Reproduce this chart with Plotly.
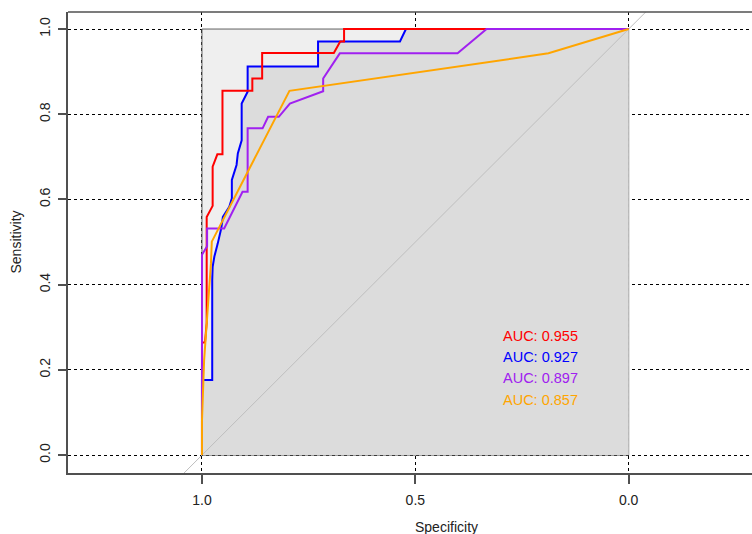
import plotly.graph_objects as go

# ---- data (specificity, sensitivity) ----
blue_spec = [0.0, 0.522, 0.536, 0.728, 0.728, 0.893, 0.893, 0.907, 0.907, 0.916, 0.919, 0.930,
             0.930, 0.936, 0.951, 0.955, 0.963, 0.971, 0.975, 0.976, 0.976, 1.0, 1.0]
blue_sens = [1.0, 1.0, 0.971, 0.971, 0.912, 0.912, 0.853, 0.825, 0.739, 0.708, 0.681, 0.646,
             0.603, 0.583, 0.559, 0.532, 0.497, 0.466, 0.442, 0.41, 0.176, 0.176, 0.0]

red_spec = [0.0, 0.667, 0.667, 0.676, 0.691, 0.859, 0.859, 0.882, 0.882, 0.952, 0.952, 0.964,
            0.975, 0.975, 0.989, 0.989, 0.993, 1.0, 1.0]
red_sens = [1.0, 1.0, 0.971, 0.971, 0.944, 0.944, 0.884, 0.884, 0.855, 0.855, 0.706, 0.706,
            0.677, 0.585, 0.559, 0.31, 0.264, 0.264, 0.0]

purple_spec = [0.0, 0.333, 0.401, 0.677, 0.716, 0.716, 0.794, 0.820, 0.845, 0.858, 0.893, 0.893,
               0.905, 0.948, 0.988, 0.988, 1.0, 1.0]
purple_sens = [1.0, 1.0, 0.943, 0.943, 0.884, 0.854, 0.825, 0.794, 0.794, 0.767, 0.767, 0.618,
               0.618, 0.532, 0.532, 0.49, 0.47, 0.0]

orange_spec = [0.0, 0.188, 0.795, 0.977, 0.979, 0.989, 0.995, 1.0, 1.0]
orange_sens = [1.0, 0.943, 0.855, 0.501, 0.45, 0.317, 0.223, 0.082, 0.0]

auc_labels = ["AUC: 0.955", "AUC: 0.927", "AUC: 0.897", "AUC: 0.857"]
auc_colors = ["#FF0000", "#0000FF", "#A020F0", "#FFA500"]

x_ticks = [1.0, 0.5, 0.0]
x_ticktext = ["1.0", "0.5", "0.0"]
y_ticks = [0.0, 0.2, 0.4, 0.6, 0.8, 1.0]
y_ticktext = ["0.0", "0.2", "0.4", "0.6", "0.8", "1.0"]

FONT = "Liberation Sans, Arial, sans-serif"

fig = go.Figure()

# max AUC polygon (full square)
fig.add_trace(go.Scatter(x=[1, 1, 0, 0, 1], y=[0, 1, 1, 0, 0], mode="lines",
                         fill="toself", fillcolor="#EFEFEF",
                         line=dict(color="#606060", width=1), hoverinfo="skip"))
# AUC polygon under the blue curve
fig.add_trace(go.Scatter(x=blue_spec + [0.0], y=blue_sens + [0.0], mode="lines",
                         fill="toself", fillcolor="#DCDCDC",
                         line=dict(width=0, color="rgba(0,0,0,0)"), hoverinfo="skip"))
# diagonal reference
fig.add_trace(go.Scatter(x=[1.5, -0.5], y=[-0.5, 1.5], mode="lines",
                         line=dict(color="#BEBEBE", width=1), hoverinfo="skip"))

for xs, ys, c in [(blue_spec, blue_sens, "#0000FF"), (red_spec, red_sens, "#FF0000"),
                  (purple_spec, purple_sens, "#A020F0"), (orange_spec, orange_sens, "#FFA500")]:
    fig.add_trace(go.Scatter(x=xs, y=ys, mode="lines", line=dict(color=c, width=2)))

annotations = []
for i, (t, c) in enumerate(zip(auc_labels, auc_colors)):
    annotations.append(dict(x=0.3, y=0.28 - 0.05 * i, xref="x", yref="y", text=t,
                            showarrow=False, xanchor="left", yanchor="middle",
                            font=dict(family=FONT, size=14.5, color=c)))
annotations.append(dict(x=416 / 752, y=-(527 - 473) / 461, xref="paper", yref="paper",
                        text="Specificity", showarrow=False, xanchor="center", yanchor="middle",
                        font=dict(family=FONT, size=14, color="#222")))
annotations.append(dict(x=-(68 - 15) / 684, y=0.5, xref="paper", yref="paper",
                        text="Sensitivity", showarrow=False, textangle=-90,
                        xanchor="center", yanchor="middle",
                        font=dict(family=FONT, size=14, color="#222")))

fig.update_layout(
    width=752, height=534,
    margin=dict(l=68, r=0, t=12, b=61, autoexpand=False),
    plot_bgcolor="white", paper_bgcolor="white",
    showlegend=False,
    font=dict(family=FONT, size=14, color="#222"),
    annotations=annotations,
    shapes=[dict(type="line", xref="paper", yref="paper", x0=0, x1=1, y0=1, y1=1,
                 line=dict(color="#505050", width=1.5))],
    xaxis=dict(range=[1.314, -0.289], tickvals=x_ticks, ticktext=x_ticktext,
               showgrid=True, gridcolor="black", griddash="dot", gridwidth=1,
               zeroline=False, showline=True, linecolor="#505050", linewidth=1.5,
               ticks="outside", ticklen=9, tickcolor="#505050", tickwidth=1.5,
               ticklabelstandoff=4, automargin=False,
               tickfont=dict(family=FONT, size=14, color="#222")),
    yaxis=dict(range=[-0.042, 1.040], tickvals=y_ticks, ticktext=y_ticktext,
               showgrid=True, gridcolor="black", griddash="dot", gridwidth=1,
               zeroline=False, showline=True, linecolor="#505050", linewidth=1.5,
               ticks="outside", ticklen=8, tickcolor="#505050", tickwidth=1.5,
               tickangle=-90, ticklabelstandoff=3, automargin=False,
               tickfont=dict(family=FONT, size=14, color="#222")),
)

fig.write_html("out.html", config={"displayModeBar": False},
               post_script="document.body.style.margin='0px';document.body.style.overflow='hidden';")
